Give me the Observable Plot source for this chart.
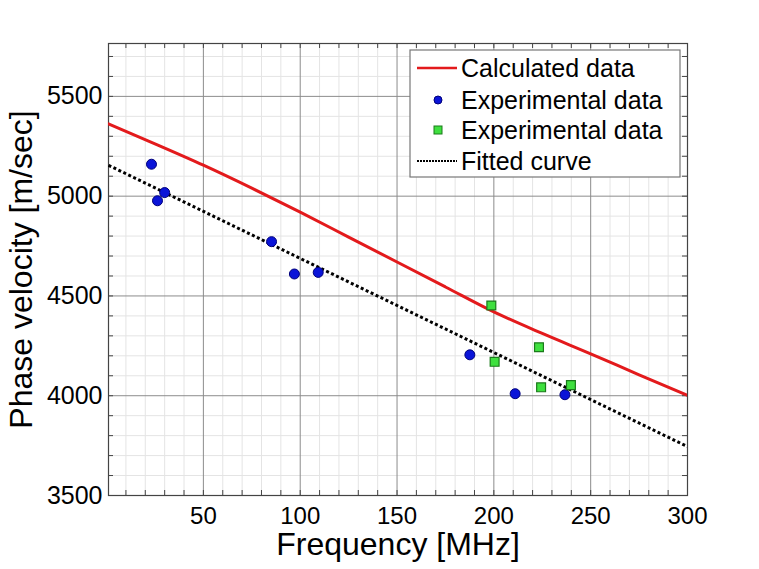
<!DOCTYPE html>
<html>
<head>
<meta charset="utf-8">
<script src="https://cdn.jsdelivr.net/npm/d3@7"></script>
<script src="https://cdn.jsdelivr.net/npm/@observablehq/plot@0.6"></script>
<style>
  html, body { margin: 0; padding: 0; background: #fff; }
  svg text { font-family: Arial, "Liberation Sans", sans-serif; }
</style>
</head>
<body>
<script>
// ---- data ----
const calcFreq = [1, 25, 50, 75, 100, 125, 150, 175, 200, 225, 250, 275, 300];
const calcVel  = [5362, 5262, 5155, 5040, 4920, 4795, 4670, 4545, 4420, 4312, 4210, 4105, 4002];

const exp1Freq = [23.2, 26.3, 30.0, 85.2, 97.0, 109.3, 187.6, 211.0, 236.7];
const exp1Vel  = [5160, 4977, 5018, 4772, 4610, 4618, 4205, 4010, 4005];

const exp2Freq = [198.7, 200.4, 223.3, 224.4, 239.8];
const exp2Vel  = [4452, 4170, 4243, 4042, 4053];

const fitFreq = [1, 300];
const fitVel  = [5155, 3745];

const xMajor = [50, 100, 150, 200, 250, 300];
const xMinor = d3.range(10, 301, 10);
const yMajor = [3500, 4000, 4500, 5000, 5500];
const yMinor = d3.range(3500, 5766, 100);

const legendItems = ["Calculated data", "Experimental data", "Experimental data", "Fitted curve"];

const calc = calcFreq.map((f, i) => ({f, v: calcVel[i]}));
const exp1 = exp1Freq.map((f, i) => ({f, v: exp1Vel[i]}));
const exp2 = exp2Freq.map((f, i) => ({f, v: exp2Vel[i]}));
const fit = fitFreq.map((f, i) => ({f, v: fitVel[i]}));

const W = 759, H = 569;
const mL = 108, mR = 72, mT = 43, mB = 74;
const fw = W - mL - mR, fh = H - mT - mB;

const chart = Plot.plot({
  width: W, height: H,
  marginLeft: mL, marginRight: mR, marginTop: mT, marginBottom: mB,
  style: {fontFamily: "Arial, 'Liberation Sans', sans-serif", fontSize: "25px", color: "#000", background: "#fff"},
  x: {domain: [1, 300]},
  y: {domain: [3500, 5765]},
  marks: [
    Plot.ruleX(xMinor.filter(d => d % 50 !== 0), {stroke: "#e4e4e4", strokeWidth: 1}),
    Plot.ruleY(yMinor.filter(d => d % 500 !== 0), {stroke: "#e4e4e4", strokeWidth: 1}),
    Plot.ruleX(xMajor, {stroke: "#8c8c8c", strokeWidth: 1}),
    Plot.ruleY(yMajor, {stroke: "#8c8c8c", strokeWidth: 1}),
    // inward ticks
    Plot.tickX(xMinor, {x: d => d, insetTop: fh - 5, stroke: "#444"}),
    Plot.tickX(xMinor, {x: d => d, insetBottom: fh - 5, stroke: "#444"}),
    Plot.tickY(yMinor, {y: d => d, insetRight: fw - 5, stroke: "#444"}),
    Plot.tickY(yMinor, {y: d => d, insetLeft: fw - 5, stroke: "#444"}),
    Plot.frame({stroke: "#444", strokeWidth: 1.2}),
    Plot.axisX(xMajor, {tickSize: 0, tickPadding: 11, fontSize: 24, label: null, tickFormat: d3.format("d")}),
    Plot.axisY(yMajor, {tickSize: 0, tickPadding: 6, fontSize: 25, label: null, tickFormat: d3.format("d")}),
    Plot.text(["Frequency [MHz]"], {frameAnchor: "bottom", lineAnchor: "middle", textAnchor: "middle", dy: 49, fontSize: 32, text: d => d}),
    Plot.text(["Phase velocity [m/sec]"], {frameAnchor: "left", lineAnchor: "middle", textAnchor: "middle", dx: -87, rotate: -90, fontSize: 32, text: d => d}),
    Plot.line(calc, {x: "f", y: "v", stroke: "#e31a1c", strokeWidth: 3, curve: "monotone-x", clip: true}),
    Plot.line(fit, {x: "f", y: "v", stroke: "#000", strokeWidth: 3, strokeDasharray: "3,2.5", strokeLinecap: "butt", clip: true}),
    Plot.dot(exp1, {x: "f", y: "v", r: 5, fill: "#0a14d8", stroke: "#00007a", strokeWidth: 1}),
    Plot.dot(exp2, {x: "f", y: "v", symbol: "square", r: 5, fill: "#3fe03f", stroke: "#1a7a1a", strokeWidth: 1.2})
  ]
});

// legend
const svg = d3.select(chart);
const lg = svg.append("g").attr("class", "legend").attr("text-anchor", "start");
lg.append("rect").attr("x", 410).attr("y", 50).attr("width", 270).attr("height", 127)
  .attr("fill", "#fff").attr("stroke", "#777").attr("stroke-width", 1.2);
const rowsY = [68, 100, 130, 161];
lg.append("line").attr("x1", 417).attr("x2", 457).attr("y1", rowsY[0]).attr("y2", rowsY[0])
  .attr("stroke", "#e31a1c").attr("stroke-width", 2.6);
lg.append("circle").attr("cx", 438).attr("cy", rowsY[1]).attr("r", 4)
  .attr("fill", "#0a14d8").attr("stroke", "#00007a");
lg.append("rect").attr("x", 434).attr("y", rowsY[2] - 4).attr("width", 8).attr("height", 8)
  .attr("fill", "#3fe03f").attr("stroke", "#1a7a1a");
lg.append("line").attr("x1", 417).attr("x2", 457).attr("y1", rowsY[3]).attr("y2", rowsY[3])
  .attr("stroke", "#000").attr("stroke-width", 2).attr("stroke-dasharray", "2,1");
legendItems.forEach((t, i) => {
  lg.append("text").attr("x", 461).attr("y", rowsY[i]).attr("dy", "0.35em")
    .attr("text-anchor", "start")
    .attr("font-size", 25).attr("fill", "#000")
    .style("font-family", "Arial, 'Liberation Sans', sans-serif").text(t);
});

document.body.appendChild(chart);
</script>
</body>
</html>
